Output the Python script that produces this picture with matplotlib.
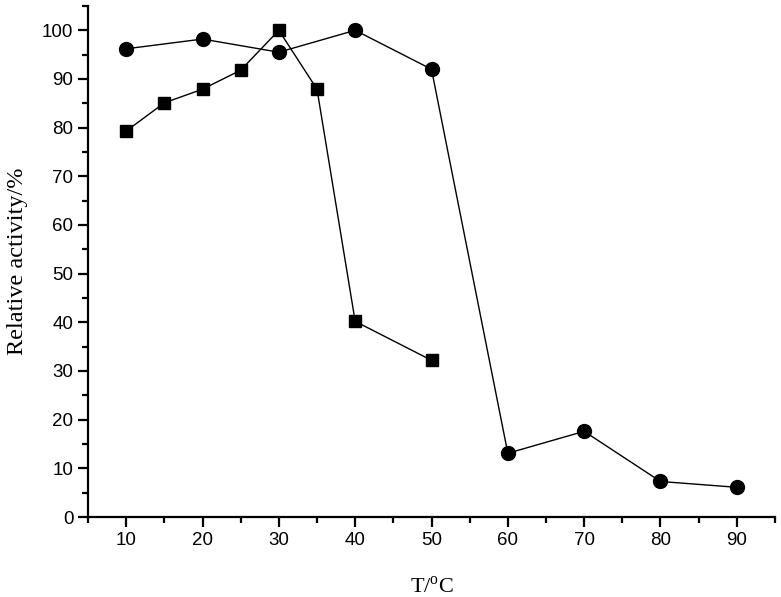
import matplotlib
matplotlib.use("Agg")
import matplotlib.pyplot as plt
from matplotlib.ticker import MultipleLocator

# circles series
temp_a = [10, 20, 30, 40, 50, 60, 70, 80, 90]
act_a = [96.2, 98.2, 95.5, 100, 92, 13.1, 17.6, 7.3, 6.1]

# squares series
temp_b = [10, 15, 20, 25, 30, 35, 40, 50]
act_b = [79.3, 85.1, 87.9, 91.8, 100, 87.9, 40.2, 32.2]

plt.rcParams['mathtext.fontset'] = 'custom'
plt.rcParams['mathtext.rm'] = 'Liberation Serif'

fig = plt.figure(figsize=(7.81, 5.97), dpi=100)
ax = fig.add_axes([0.1127, 0.134, 0.8796, 0.856])

ax.plot(temp_a, act_a, color="black", lw=1.0, marker="o", markersize=10)
ax.plot(temp_b, act_b, color="black", lw=1.0, marker="s", markersize=8.5)

ax.set_xlim(5, 95)
ax.set_ylim(0, 105)
ax.xaxis.set_major_locator(MultipleLocator(10))
ax.xaxis.set_minor_locator(MultipleLocator(5))
ax.yaxis.set_major_locator(MultipleLocator(10))
ax.yaxis.set_minor_locator(MultipleLocator(5))

for s in ["top", "right"]:
    ax.spines[s].set_visible(False)
for s in ["left", "bottom"]:
    ax.spines[s].set_linewidth(1.6)

ax.tick_params(which="major", direction="out", length=7, width=1.6, labelsize=13.5)
ax.tick_params(which="minor", direction="out", length=4, width=1.6)
ax.set_xticks([10, 20, 30, 40, 50, 60, 70, 80, 90])
for lab in ax.get_xticklabels() + ax.get_yticklabels():
    lab.set_family("Liberation Sans")

ax.set_xlabel(r"T/$^{\rm o}$C", family="Liberation Serif", fontsize=16, labelpad=20)
ax.set_ylabel("Relative activity/%", family="Liberation Serif", fontsize=17.5, labelpad=10)

fig.savefig("out.png", dpi=100)
